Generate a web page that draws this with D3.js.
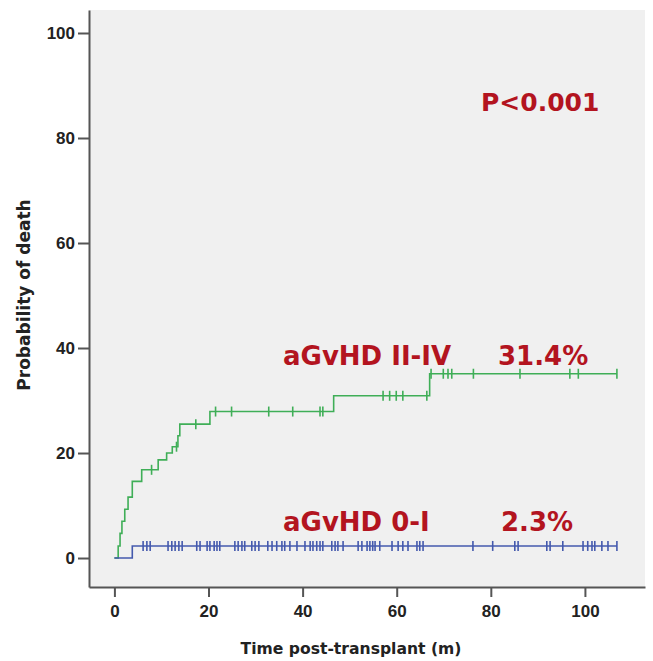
<!DOCTYPE html>
<html>
<head>
<meta charset="utf-8">
<script src="https://cdn.jsdelivr.net/npm/d3@7"></script>
<style>
  body { margin: 0; background: #fff; }
  svg text { font-family: "Liberation Sans", Arial, sans-serif; }
</style>
</head>
<body>
<div id="chart"></div>
<script>
// step data (time in months, probability in %)
var greenTimes = [0, 0.8, 1.2, 1.6, 2.2, 2.9, 3.8, 5.8, 9.3, 11.1, 12.3, 13.5, 13.9, 20.3, 46.6, 67.0];
var greenProbs = [0, 2.3, 4.7, 7.0, 9.3, 11.6, 14.6, 16.8, 18.7, 20.0, 21.2, 23.3, 25.5, 27.9, 30.9, 35.1];
var greenEnd = 106.8;
var greenCensor = [7.9, 13.2, 17.3, 21.5, 24.9, 32.8, 37.9, 43.7, 44.3, 57.1, 58.5, 59.9, 61.3, 66.4,
  67.3, 69.9, 70.9, 71.7, 76.3, 86.2, 96.8, 98.6, 106.8];

var blueTimes = [0, 3.8];
var blueProbs = [0, 2.3];
var blueEnd = 106.8;
var blueCensor = [6.1, 6.9, 7.6, 11.4, 12.2, 12.9, 13.7, 14.4, 17.5, 18.2, 19.7, 20.3, 21.2, 21.8, 22.4,
  25.6, 26.3, 27.1, 27.7, 29.2, 29.9, 30.7, 32.6, 33.5, 34.5, 35.6, 36.2, 37.3, 38.8, 40.5, 41.6,
  42.2, 43.0, 43.7, 44.3, 46.2, 46.9, 47.5, 48.6, 51.8, 52.6, 53.7, 54.3, 54.9, 55.4, 56.4, 59.0,
  60.3, 61.3, 62.4, 64.3, 64.9, 65.6, 76.2, 80.4, 85.1, 85.8, 91.9, 92.6, 95.3, 99.6, 100.6, 101.5,
  102.1, 103.6, 104.9, 106.8];

var xTicks = [0, 20, 40, 60, 80, 100];
var yTicks = [0, 20, 40, 60, 80, 100];

var groupLabels = ["aGvHD II-IV", "aGvHD 0-I"];
var groupPcts = ["31.4%", "2.3%"];
var pText = "P<0.001";

// set the dimensions and margins of the graph
var margin = {top: 10, right: 8, bottom: 74, left: 89},
  width = 653 - margin.left - margin.right,
  height = 661 - margin.top - margin.bottom;

var svg = d3.select("#chart")
  .append("svg")
    .attr("width", 653)
    .attr("height", 661);

var g = svg.append("g")
    .attr("transform", "translate(" + margin.left + "," + margin.top + ")");

var x = d3.scaleLinear().domain([-5.4, 112.77]).range([0, width]);
var y = d3.scaleLinear().domain([-5.52, 104.38]).range([height, 0]);

// grey plot area
g.append("rect")
  .attr("width", width)
  .attr("height", height)
  .attr("fill", "#f0f0f0");

// axes
var xAxis = g.append("g")
  .attr("transform", "translate(0," + height + ")")
  .call(d3.axisBottom(x).tickValues(xTicks).tickSize(10).tickSizeOuter(0).tickPadding(8));
var yAxis = g.append("g")
  .call(d3.axisLeft(y).tickValues(yTicks).tickSize(11).tickSizeOuter(0).tickPadding(3));

[xAxis, yAxis].forEach(function(a) {
  a.select(".domain").attr("stroke", "#555").attr("stroke-width", 2);
  a.selectAll(".tick line").attr("stroke", "#555").attr("stroke-width", 2);
  a.selectAll(".tick text")
    .attr("fill", "#222")
    .style("font-size", "17px")
    .style("font-weight", "bold")
    .style("font-family", "'Liberation Sans', Arial, sans-serif");
});

// axis titles
svg.append("text")
  .attr("x", 351)
  .attr("y", 654)
  .attr("text-anchor", "middle")
  .style("font-family", "'DejaVu Sans', sans-serif")
  .style("font-weight", "bold")
  .style("font-size", "15.6px")
  .attr("fill", "#222")
  .text("Time post-transplant (m)");

svg.append("text")
  .attr("transform", "translate(30,295) rotate(-90)")
  .attr("text-anchor", "middle")
  .style("font-family", "'DejaVu Sans', sans-serif")
  .style("font-weight", "bold")
  .style("font-size", "17px")
  .attr("fill", "#222")
  .text("Probability of death");

// step value at a given time
function stepAt(times, probs, t) {
  var i = d3.bisectRight(times, t) - 1;
  return probs[Math.max(i, 0)];
}

var line = d3.line()
  .x(function(d) { return x(d[0]); })
  .y(function(d) { return y(d[1]); })
  .curve(d3.curveStepAfter);

function drawCurve(times, probs, end, censor, color) {
  var pts = times.map(function(t, i) { return [t, probs[i]]; });
  pts.push([end, probs[probs.length - 1]]);
  g.append("path")
    .datum(pts)
    .attr("fill", "none")
    .attr("stroke", color)
    .attr("stroke-width", 1.6)
    .attr("d", line);
  g.selectAll(null)
    .data(censor)
    .enter()
    .append("line")
      .attr("x1", function(d) { return x(d); })
      .attr("x2", function(d) { return x(d); })
      .attr("y1", function(d) { return y(stepAt(times, probs, d)) - 5; })
      .attr("y2", function(d) { return y(stepAt(times, probs, d)) + 5; })
      .attr("stroke", color)
      .attr("stroke-width", 1.6);
}

drawCurve(greenTimes, greenProbs, greenEnd, greenCensor, "#3fae57");
drawCurve(blueTimes, blueProbs, blueEnd, blueCensor, "#4459ad");

// red annotations
var red = "#b3141f";
function redText(txt, px, py, size) {
  svg.append("text")
    .attr("x", px)
    .attr("y", py)
    .style("font-family", "'DejaVu Sans', sans-serif")
    .style("font-weight", "bold")
    .style("font-size", size + "px")
    .attr("fill", red)
    .text(txt);
}
redText(pText, 481, 111, 25);
redText(groupLabels[0], 283, 365, 26);
redText(groupPcts[0], 498, 365, 26);
redText(groupLabels[1], 283, 531, 26);
redText(groupPcts[1], 501, 531, 26);
</script>
</body>
</html>
